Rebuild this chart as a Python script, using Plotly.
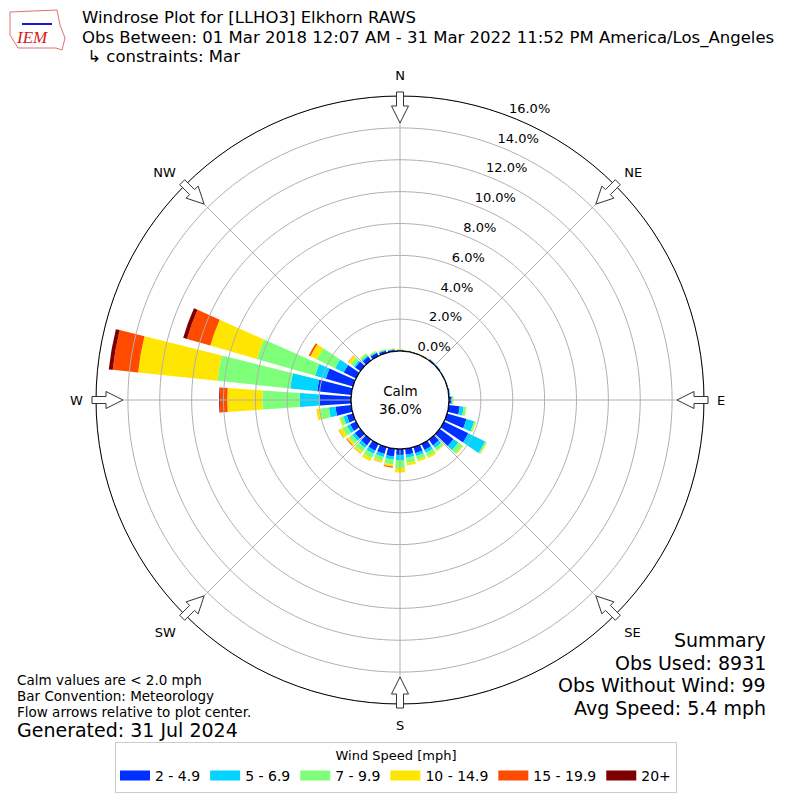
"""
Windrose plot of Elkhorn RAWS wind observations (March only)
"""

import math

import plotly.graph_objects as go

# Direction bins (degrees, meteorological convention)
directions = list(range(0, 360, 10))

# Frequency (%) per speed bin, one value per direction bin
speed_2_5 = [0.05, 0.04, 0.03, 0.04, 0.08, 0.07, 0.04, 0.04, 0.07, 0.15,
             0.70, 1.27, 1.70, 1.08, 0.45, 0.42, 0.40, 0.38, 0.38, 0.50,
             0.45, 0.47, 0.45, 0.44, 0.41, 0.40, 1.00, 1.96, 2.15, 1.77,
             0.86, 0.41, 0.30, 0.22, 0.15, 0.10]
speed_5_7 = [0.02, 0.01, 0.01, 0.01, 0.02, 0.02, 0.01, 0.01, 0.02, 0.05,
             0.25, 0.50, 1.17, 0.38, 0.20, 0.20, 0.18, 0.19, 0.32, 0.20,
             0.20, 0.22, 0.20, 0.19, 0.22, 0.23, 0.41, 1.27, 1.70, 0.70,
             0.60, 0.10, 0.10, 0.06, 0.05, 0.04]
speed_7_10 = [0.02, 0.01, 0.01, 0.01, 0.01, 0.01, 0.01, 0.01, 0.01, 0.08,
              0.15, 0.10, 0.10, 0.32, 0.20, 0.25, 0.25, 0.32, 0.50, 0.30,
              0.25, 0.32, 0.30, 0.25, 0.32, 0.20, 0.56, 2.34, 4.60, 3.80,
              1.27, 0.25, 0.12, 0.07, 0.05, 0.03]
speed_10_15 = [0.03, 0.02, 0.01, 0.03, 0.01, 0.00, 0.00, 0.00, 0.00, 0.02,
               0.02, 0.03, 0.04, 0.06, 0.05, 0.13, 0.12, 0.16, 0.28, 0.13,
               0.12, 0.19, 0.15, 0.16, 0.25, 0.08, 0.22, 2.20, 5.00, 3.04,
               0.45, 0.18, 0.05, 0.03, 0.03, 0.02]
speed_15_20 = [0.0, 0.0, 0.0, 0.0, 0.0, 0.0, 0.0, 0.0, 0.0, 0.0,
               0.0, 0.0, 0.0, 0.0, 0.0, 0.0, 0.0, 0.0, 0.0, 0.07,
               0.01, 0.01, 0.01, 0.05, 0.02, 0.0, 0.01, 0.46, 1.60, 1.52,
               0.12, 0.02, 0.0, 0.0, 0.0, 0.0]
speed_20_up = [0.0, 0.0, 0.0, 0.0, 0.0, 0.0, 0.0, 0.0, 0.0, 0.0,
               0.0, 0.0, 0.0, 0.0, 0.0, 0.0, 0.0, 0.0, 0.0, 0.0,
               0.0, 0.0, 0.0, 0.0, 0.0, 0.0, 0.0, 0.05, 0.25, 0.25,
               0.0, 0.0, 0.0, 0.0, 0.0, 0.0]

speed_labels = ["2 - 4.9", "5 - 6.9", "7 - 9.9", "10 - 14.9", "15 - 19.9", "20+"]
speed_colors = ["#0030ff", "#00d4ff", "#7dff7a", "#ffe600", "#ff4a00", "#7f0000"]

radial_ticks = [0, 2, 4, 6, 8, 10, 12, 14, 16]
compass_angles = [0, 45, 90, 135, 180, 225, 270, 315]
compass_labels = ["N", "NE", "E", "SE", "S", "SW", "W", "NW"]

title_lines = [
    "Windrose Plot for [LLHO3] Elkhorn RAWS",
    "Obs Between: 01 Mar 2018 12:07 AM - 31 Mar 2022 11:52 PM America/Los_Angeles",
    " ↳ constraints: Mar",
]
summary_lines = ["Summary", "Obs Used: 8931", "Obs Without Wind: 99", "Avg Speed: 5.4 mph"]
note_lines = ["Calm values are &lt; 2.0 mph", "Bar Convention: Meteorology",
              "Flow arrows relative to plot center."]

calm_pct = 36.0
FONT = "DejaVu Sans"
# the browser body keeps its 8px margin, so the figure is a bit smaller
# and all page positions below are given in page pixels, minus that margin
PAGE_MARGIN = 8
SIZE = 792
CX, CY, RADIUS = 400, 400, 304  # plot center and rim, page pixels


def _px(x, y):
    """Page pixel -> paper coords."""
    return (x - PAGE_MARGIN) / SIZE, 1 - (y - PAGE_MARGIN) / SIZE


def _arrow_path(angle_deg: float) -> str:
    """Hollow arrow on the rim pointing to the plot center, as an SVG path in paper units."""
    a = math.radians(angle_deg)
    outline = [(308, -3.5), (294, -3.5), (294, -8.5), (277, 0),
               (294, 8.5), (294, 3.5), (308, 3.5)]
    pts = []
    for r, w in outline:
        px, py = _px(CX + r * math.sin(a) + w * math.cos(a),
                     CY - r * math.cos(a) + w * math.sin(a))
        pts.append(f"{px:.5f},{py:.5f}")
    return "M " + " L ".join(pts) + " Z"


def _text(fig, x, y, text, size, anchor="left", **kw):
    """Add a paper-positioned annotation given page pixel coordinates."""
    px, py = _px(x, y)
    fig.add_annotation(
        x=px, y=py, xref="paper", yref="paper",
        text=text, showarrow=False, xanchor=anchor, yanchor="middle",
        font=dict(family=kw.pop("family", FONT), size=size, color=kw.pop("color", "black")),
        **kw,
    )


def build_figure() -> go.Figure:
    fig = go.Figure()

    series = [speed_2_5, speed_5_7, speed_7_10, speed_10_15, speed_15_20, speed_20_up]
    for values, label, color in zip(series, speed_labels, speed_colors):
        fig.add_trace(go.Barpolar(
            r=values, theta=directions, width=8, name=label, legendgroup=label,
            marker=dict(color=color, line=dict(width=0)),
            hoverinfo="skip", showlegend=False,
        ))
        # legend entry only: thick line sample looks like the matplotlib patch
        fig.add_trace(go.Scatterpolar(
            r=[None], theta=[None], mode="lines", name=label, legendgroup=label,
            line=dict(color=color, width=10), hoverinfo="skip",
        ))

    # grid drawn above the bars, like the matplotlib original
    ring_theta, ring_r = [], []
    for tick in radial_ticks[1:]:
        ring_theta += list(range(0, 361, 2)) + [None]
        ring_r += [tick] * 181 + [None]
    spoke_theta, spoke_r = [], []
    for ang in compass_angles:
        spoke_theta += [ang, ang, None]
        spoke_r += [0, 16, None]
    fig.add_trace(go.Scatterpolar(
        r=ring_r + spoke_r, theta=ring_theta + spoke_theta, mode="lines",
        line=dict(color="#b0b0b0", width=1), showlegend=False, hoverinfo="skip",
        connectgaps=False,
    ))
    # calm circle edge
    fig.add_trace(go.Scatterpolar(
        r=[0] * 181, theta=list(range(0, 361, 2)), mode="lines",
        line=dict(color="black", width=1.2), showlegend=False, hoverinfo="skip",
    ))
    # radial tick labels
    fig.add_trace(go.Scatterpolar(
        r=radial_ticks, theta=[21] * len(radial_ticks), mode="text",
        text=[f"{t:.1f}%" for t in radial_ticks], textposition="top right",
        textfont=dict(family=FONT, size=13, color="black"),
        showlegend=False, hoverinfo="skip", cliponaxis=False,
    ))

    for ang in compass_angles:
        fig.add_shape(type="path", xref="paper", yref="paper", path=_arrow_path(ang),
                      fillcolor="white", line=dict(color="#333333", width=1))

    # IEM logo, roughly
    outline = [(10, 12), (57, 10), (60, 25), (65, 38), (62, 50), (56, 48), (18, 48), (10, 35)]
    logo = "M " + " L ".join("{:.5f},{:.5f}".format(*_px(x, y)) for x, y in outline) + " Z"
    fig.add_shape(type="path", xref="paper", yref="paper", path=logo,
                  fillcolor="white", line=dict(color="#e07070", width=1))
    lx0, ly = _px(22, 24)
    lx1, _ = _px(52, 24)
    fig.add_shape(type="line", xref="paper", yref="paper", x0=lx0, x1=lx1,
                  y0=ly, y1=ly, line=dict(color="#1a1acc", width=2))
    _text(fig, 32, 38, "<i>IEM</i>", 17, anchor="center",
          family="Liberation Serif", color="#d02020")

    # title block: line spacing follows the 15px base font (1.3em = 19.5px),
    # the glyphs themselves are drawn a bit bigger through the span style
    title = "<br>".join(f"<span style='font-size:16.5px'>{t}</span>" for t in title_lines)
    _text(fig, 80, 37, title, 15, align="left")

    for i, line in enumerate(summary_lines):
        _text(fig, 768, 640 + 22.5 * i, line, 19, anchor="right")

    for i, line in enumerate(note_lines):
        _text(fig, 15, 680 + 16 * i, line, 13.5)
    _text(fig, 15, 730, "Generated: 31 Jul 2024", 19)

    _text(fig, CX, CY, f"Calm<br>{calm_pct:.1f}%", 13.5, anchor="center")

    dx0, dy0 = _px(CX - RADIUS, CY + RADIUS)
    dx1, dy1 = _px(CX + RADIUS, CY - RADIUS)
    _, leg_top = _px(0, 742)

    fig.update_layout(
        width=SIZE, height=SIZE,
        margin=dict(l=0, r=0, t=0, b=0),
        paper_bgcolor="white",
        font=dict(family=FONT, size=13, color="black"),
        polar=dict(
            domain=dict(x=[dx0, dx1], y=[dy0, dy1]),
            hole=0.161,
            bgcolor="white",
            barmode="stack",
            radialaxis=dict(range=[0, 16], showgrid=False, showline=False,
                            showticklabels=False, ticks=""),
            angularaxis=dict(
                rotation=90, direction="clockwise",
                tickmode="array", tickvals=compass_angles, ticktext=compass_labels,
                showgrid=False, showline=True, linecolor="black", linewidth=1,
                ticks="outside", ticklen=10, tickcolor="rgba(0,0,0,0)",
                tickfont=dict(family=FONT, size=13),
            ),
        ),
        legend=dict(
            orientation="h", x=0.5 - 8 / SIZE, xanchor="center", y=leg_top, yanchor="top",
            bordercolor="#cccccc", borderwidth=1,
            title=dict(text="Wind Speed [mph]", side="top center", font=dict(size=13)),
            font=dict(family=FONT, size=14),
            itemwidth=30, tracegroupgap=0,
        ),
    )
    return fig


if __name__ == "__main__":
    fig = build_figure()
    fig.write_html("out.html")
